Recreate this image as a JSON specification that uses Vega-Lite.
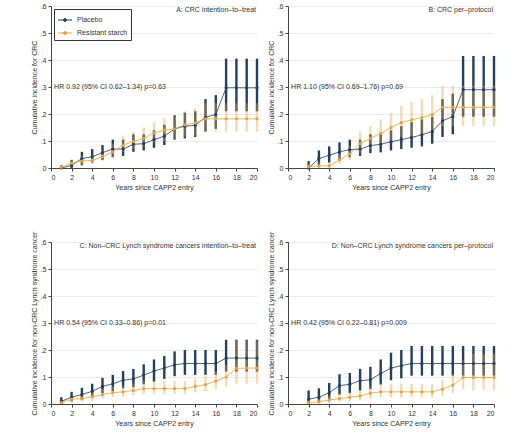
{
  "$schema": "https://vega.github.io/schema/vega-lite/v6.json",
  "padding": {"left": 30, "top": 2, "right": 5, "bottom": 5},
  "background": "white",
  "config": {
    "font": "Liberation Sans",
    "view": {"stroke": null},
    "axis": {
      "labelFontSize": 7, "titleFontSize": 7, "labelColor": "#333", "titleColor": "#333",
      "titleFontWeight": "normal", "domainColor": "#444", "tickColor": "#444",
      "tickSize": 3, "labelPadding": 2, "titlePadding": 3, "gridColor": "#ebebeb",
      "labelOverlap": false
    }
  },
  "data": {
    "values": [
      {"panel": "A", "group": "Placebo", "year": 1, "ci": 0.0, "lo": 0.0, "hi": 0.01},
      {"panel": "A", "group": "Placebo", "year": 2, "ci": 0.01, "lo": 0.0, "hi": 0.03},
      {"panel": "A", "group": "Placebo", "year": 3, "ci": 0.035, "lo": 0.01, "hi": 0.06},
      {"panel": "A", "group": "Placebo", "year": 4, "ci": 0.042, "lo": 0.02, "hi": 0.07},
      {"panel": "A", "group": "Placebo", "year": 5, "ci": 0.057, "lo": 0.03, "hi": 0.085},
      {"panel": "A", "group": "Placebo", "year": 6, "ci": 0.07, "lo": 0.04, "hi": 0.105},
      {"panel": "A", "group": "Placebo", "year": 7, "ci": 0.07, "lo": 0.045, "hi": 0.105},
      {"panel": "A", "group": "Placebo", "year": 8, "ci": 0.088, "lo": 0.06, "hi": 0.125},
      {"panel": "A", "group": "Placebo", "year": 9, "ci": 0.09, "lo": 0.065, "hi": 0.125},
      {"panel": "A", "group": "Placebo", "year": 10, "ci": 0.105, "lo": 0.075, "hi": 0.14},
      {"panel": "A", "group": "Placebo", "year": 11, "ci": 0.118, "lo": 0.085, "hi": 0.16},
      {"panel": "A", "group": "Placebo", "year": 12, "ci": 0.145, "lo": 0.105, "hi": 0.195},
      {"panel": "A", "group": "Placebo", "year": 13, "ci": 0.155, "lo": 0.11, "hi": 0.205},
      {"panel": "A", "group": "Placebo", "year": 14, "ci": 0.158, "lo": 0.115, "hi": 0.21},
      {"panel": "A", "group": "Placebo", "year": 15, "ci": 0.188, "lo": 0.135, "hi": 0.255},
      {"panel": "A", "group": "Placebo", "year": 16, "ci": 0.198, "lo": 0.145, "hi": 0.27},
      {"panel": "A", "group": "Placebo", "year": 17, "ci": 0.297, "lo": 0.21, "hi": 0.405},
      {"panel": "A", "group": "Placebo", "year": 18, "ci": 0.297, "lo": 0.21, "hi": 0.405},
      {"panel": "A", "group": "Placebo", "year": 19, "ci": 0.297, "lo": 0.21, "hi": 0.405},
      {"panel": "A", "group": "Placebo", "year": 20, "ci": 0.297, "lo": 0.21, "hi": 0.405},
      {"panel": "A", "group": "Resistant starch", "year": 1, "ci": 0.003, "lo": 0.0, "hi": 0.01},
      {"panel": "A", "group": "Resistant starch", "year": 2, "ci": 0.018, "lo": 0.005, "hi": 0.03},
      {"panel": "A", "group": "Resistant starch", "year": 3, "ci": 0.026, "lo": 0.01, "hi": 0.045},
      {"panel": "A", "group": "Resistant starch", "year": 4, "ci": 0.028, "lo": 0.015, "hi": 0.05},
      {"panel": "A", "group": "Resistant starch", "year": 5, "ci": 0.042, "lo": 0.025, "hi": 0.065},
      {"panel": "A", "group": "Resistant starch", "year": 6, "ci": 0.06, "lo": 0.04, "hi": 0.09},
      {"panel": "A", "group": "Resistant starch", "year": 7, "ci": 0.085, "lo": 0.06, "hi": 0.12},
      {"panel": "A", "group": "Resistant starch", "year": 8, "ci": 0.098, "lo": 0.07, "hi": 0.135},
      {"panel": "A", "group": "Resistant starch", "year": 9, "ci": 0.11, "lo": 0.08, "hi": 0.15},
      {"panel": "A", "group": "Resistant starch", "year": 10, "ci": 0.13, "lo": 0.095, "hi": 0.17},
      {"panel": "A", "group": "Resistant starch", "year": 11, "ci": 0.14, "lo": 0.1, "hi": 0.185},
      {"panel": "A", "group": "Resistant starch", "year": 12, "ci": 0.145, "lo": 0.105, "hi": 0.19},
      {"panel": "A", "group": "Resistant starch", "year": 13, "ci": 0.16, "lo": 0.115, "hi": 0.21},
      {"panel": "A", "group": "Resistant starch", "year": 14, "ci": 0.167, "lo": 0.12, "hi": 0.22},
      {"panel": "A", "group": "Resistant starch", "year": 15, "ci": 0.182, "lo": 0.135, "hi": 0.24},
      {"panel": "A", "group": "Resistant starch", "year": 16, "ci": 0.182, "lo": 0.135, "hi": 0.24},
      {"panel": "A", "group": "Resistant starch", "year": 17, "ci": 0.182, "lo": 0.135, "hi": 0.24},
      {"panel": "A", "group": "Resistant starch", "year": 18, "ci": 0.182, "lo": 0.135, "hi": 0.24},
      {"panel": "A", "group": "Resistant starch", "year": 19, "ci": 0.182, "lo": 0.135, "hi": 0.24},
      {"panel": "A", "group": "Resistant starch", "year": 20, "ci": 0.182, "lo": 0.135, "hi": 0.24},

      {"panel": "B", "group": "Placebo", "year": 2, "ci": 0.0, "lo": 0.0, "hi": 0.025},
      {"panel": "B", "group": "Placebo", "year": 3, "ci": 0.035, "lo": 0.01, "hi": 0.065},
      {"panel": "B", "group": "Placebo", "year": 4, "ci": 0.047, "lo": 0.02, "hi": 0.08},
      {"panel": "B", "group": "Placebo", "year": 5, "ci": 0.06, "lo": 0.03, "hi": 0.095},
      {"panel": "B", "group": "Placebo", "year": 6, "ci": 0.068, "lo": 0.04, "hi": 0.105},
      {"panel": "B", "group": "Placebo", "year": 7, "ci": 0.07, "lo": 0.045, "hi": 0.105},
      {"panel": "B", "group": "Placebo", "year": 8, "ci": 0.083, "lo": 0.055, "hi": 0.125},
      {"panel": "B", "group": "Placebo", "year": 9, "ci": 0.088, "lo": 0.058, "hi": 0.13},
      {"panel": "B", "group": "Placebo", "year": 10, "ci": 0.097, "lo": 0.065, "hi": 0.14},
      {"panel": "B", "group": "Placebo", "year": 11, "ci": 0.105, "lo": 0.07, "hi": 0.155},
      {"panel": "B", "group": "Placebo", "year": 12, "ci": 0.113, "lo": 0.075, "hi": 0.17},
      {"panel": "B", "group": "Placebo", "year": 13, "ci": 0.123, "lo": 0.08, "hi": 0.18},
      {"panel": "B", "group": "Placebo", "year": 14, "ci": 0.135, "lo": 0.09, "hi": 0.19},
      {"panel": "B", "group": "Placebo", "year": 15, "ci": 0.175, "lo": 0.115, "hi": 0.255},
      {"panel": "B", "group": "Placebo", "year": 16, "ci": 0.19, "lo": 0.125, "hi": 0.275},
      {"panel": "B", "group": "Placebo", "year": 17, "ci": 0.29, "lo": 0.19, "hi": 0.415},
      {"panel": "B", "group": "Placebo", "year": 18, "ci": 0.29, "lo": 0.19, "hi": 0.415},
      {"panel": "B", "group": "Placebo", "year": 19, "ci": 0.29, "lo": 0.19, "hi": 0.415},
      {"panel": "B", "group": "Placebo", "year": 20, "ci": 0.29, "lo": 0.19, "hi": 0.415},
      {"panel": "B", "group": "Resistant starch", "year": 2, "ci": 0.005, "lo": 0.0, "hi": 0.015},
      {"panel": "B", "group": "Resistant starch", "year": 3, "ci": 0.008, "lo": 0.0, "hi": 0.02},
      {"panel": "B", "group": "Resistant starch", "year": 4, "ci": 0.008, "lo": 0.0, "hi": 0.02},
      {"panel": "B", "group": "Resistant starch", "year": 5, "ci": 0.03, "lo": 0.015, "hi": 0.05},
      {"panel": "B", "group": "Resistant starch", "year": 6, "ci": 0.052, "lo": 0.03, "hi": 0.08},
      {"panel": "B", "group": "Resistant starch", "year": 7, "ci": 0.09, "lo": 0.055, "hi": 0.135},
      {"panel": "B", "group": "Resistant starch", "year": 8, "ci": 0.11, "lo": 0.07, "hi": 0.155},
      {"panel": "B", "group": "Resistant starch", "year": 9, "ci": 0.128, "lo": 0.085, "hi": 0.18},
      {"panel": "B", "group": "Resistant starch", "year": 10, "ci": 0.15, "lo": 0.1, "hi": 0.205},
      {"panel": "B", "group": "Resistant starch", "year": 11, "ci": 0.168, "lo": 0.115, "hi": 0.23},
      {"panel": "B", "group": "Resistant starch", "year": 12, "ci": 0.178, "lo": 0.12, "hi": 0.245},
      {"panel": "B", "group": "Resistant starch", "year": 13, "ci": 0.187, "lo": 0.125, "hi": 0.255},
      {"panel": "B", "group": "Resistant starch", "year": 14, "ci": 0.198, "lo": 0.135, "hi": 0.27},
      {"panel": "B", "group": "Resistant starch", "year": 15, "ci": 0.225, "lo": 0.155, "hi": 0.305},
      {"panel": "B", "group": "Resistant starch", "year": 16, "ci": 0.225, "lo": 0.155, "hi": 0.305},
      {"panel": "B", "group": "Resistant starch", "year": 17, "ci": 0.225, "lo": 0.155, "hi": 0.305},
      {"panel": "B", "group": "Resistant starch", "year": 18, "ci": 0.225, "lo": 0.155, "hi": 0.305},
      {"panel": "B", "group": "Resistant starch", "year": 19, "ci": 0.225, "lo": 0.155, "hi": 0.305},
      {"panel": "B", "group": "Resistant starch", "year": 20, "ci": 0.225, "lo": 0.155, "hi": 0.305},

      {"panel": "C", "group": "Placebo", "year": 1, "ci": 0.01, "lo": 0.0, "hi": 0.025},
      {"panel": "C", "group": "Placebo", "year": 2, "ci": 0.025, "lo": 0.01, "hi": 0.045},
      {"panel": "C", "group": "Placebo", "year": 3, "ci": 0.035, "lo": 0.015, "hi": 0.06},
      {"panel": "C", "group": "Placebo", "year": 4, "ci": 0.047, "lo": 0.025, "hi": 0.075},
      {"panel": "C", "group": "Placebo", "year": 5, "ci": 0.065, "lo": 0.04, "hi": 0.097},
      {"panel": "C", "group": "Placebo", "year": 6, "ci": 0.075, "lo": 0.048, "hi": 0.108},
      {"panel": "C", "group": "Placebo", "year": 7, "ci": 0.088, "lo": 0.058, "hi": 0.122},
      {"panel": "C", "group": "Placebo", "year": 8, "ci": 0.093, "lo": 0.062, "hi": 0.13},
      {"panel": "C", "group": "Placebo", "year": 9, "ci": 0.107, "lo": 0.073, "hi": 0.147},
      {"panel": "C", "group": "Placebo", "year": 10, "ci": 0.122, "lo": 0.083, "hi": 0.165},
      {"panel": "C", "group": "Placebo", "year": 11, "ci": 0.133, "lo": 0.093, "hi": 0.178},
      {"panel": "C", "group": "Placebo", "year": 12, "ci": 0.145, "lo": 0.103, "hi": 0.195},
      {"panel": "C", "group": "Placebo", "year": 13, "ci": 0.15, "lo": 0.108, "hi": 0.2},
      {"panel": "C", "group": "Placebo", "year": 14, "ci": 0.15, "lo": 0.108, "hi": 0.2},
      {"panel": "C", "group": "Placebo", "year": 15, "ci": 0.15, "lo": 0.108, "hi": 0.2},
      {"panel": "C", "group": "Placebo", "year": 16, "ci": 0.15, "lo": 0.108, "hi": 0.2},
      {"panel": "C", "group": "Placebo", "year": 17, "ci": 0.17, "lo": 0.12, "hi": 0.238},
      {"panel": "C", "group": "Placebo", "year": 18, "ci": 0.17, "lo": 0.12, "hi": 0.238},
      {"panel": "C", "group": "Placebo", "year": 19, "ci": 0.17, "lo": 0.12, "hi": 0.238},
      {"panel": "C", "group": "Placebo", "year": 20, "ci": 0.17, "lo": 0.12, "hi": 0.238},
      {"panel": "C", "group": "Resistant starch", "year": 1, "ci": 0.005, "lo": 0.0, "hi": 0.015},
      {"panel": "C", "group": "Resistant starch", "year": 2, "ci": 0.018, "lo": 0.005, "hi": 0.03},
      {"panel": "C", "group": "Resistant starch", "year": 3, "ci": 0.02, "lo": 0.008, "hi": 0.035},
      {"panel": "C", "group": "Resistant starch", "year": 4, "ci": 0.027, "lo": 0.012, "hi": 0.045},
      {"panel": "C", "group": "Resistant starch", "year": 5, "ci": 0.035, "lo": 0.02, "hi": 0.055},
      {"panel": "C", "group": "Resistant starch", "year": 6, "ci": 0.042, "lo": 0.025, "hi": 0.065},
      {"panel": "C", "group": "Resistant starch", "year": 7, "ci": 0.045, "lo": 0.028, "hi": 0.068},
      {"panel": "C", "group": "Resistant starch", "year": 8, "ci": 0.05, "lo": 0.032, "hi": 0.075},
      {"panel": "C", "group": "Resistant starch", "year": 9, "ci": 0.057, "lo": 0.037, "hi": 0.085},
      {"panel": "C", "group": "Resistant starch", "year": 10, "ci": 0.057, "lo": 0.037, "hi": 0.085},
      {"panel": "C", "group": "Resistant starch", "year": 11, "ci": 0.057, "lo": 0.037, "hi": 0.085},
      {"panel": "C", "group": "Resistant starch", "year": 12, "ci": 0.057, "lo": 0.037, "hi": 0.085},
      {"panel": "C", "group": "Resistant starch", "year": 13, "ci": 0.057, "lo": 0.037, "hi": 0.085},
      {"panel": "C", "group": "Resistant starch", "year": 14, "ci": 0.065, "lo": 0.043, "hi": 0.095},
      {"panel": "C", "group": "Resistant starch", "year": 15, "ci": 0.072, "lo": 0.048, "hi": 0.103},
      {"panel": "C", "group": "Resistant starch", "year": 16, "ci": 0.085, "lo": 0.055, "hi": 0.12},
      {"panel": "C", "group": "Resistant starch", "year": 17, "ci": 0.1, "lo": 0.065, "hi": 0.145},
      {"panel": "C", "group": "Resistant starch", "year": 18, "ci": 0.132, "lo": 0.075, "hi": 0.24},
      {"panel": "C", "group": "Resistant starch", "year": 19, "ci": 0.133, "lo": 0.075, "hi": 0.235},
      {"panel": "C", "group": "Resistant starch", "year": 20, "ci": 0.133, "lo": 0.075, "hi": 0.235},

      {"panel": "D", "group": "Placebo", "year": 2, "ci": 0.018, "lo": 0.0, "hi": 0.05},
      {"panel": "D", "group": "Placebo", "year": 3, "ci": 0.025, "lo": 0.005, "hi": 0.058},
      {"panel": "D", "group": "Placebo", "year": 4, "ci": 0.042, "lo": 0.015, "hi": 0.078},
      {"panel": "D", "group": "Placebo", "year": 5, "ci": 0.068, "lo": 0.035, "hi": 0.11},
      {"panel": "D", "group": "Placebo", "year": 6, "ci": 0.073, "lo": 0.04, "hi": 0.115},
      {"panel": "D", "group": "Placebo", "year": 7, "ci": 0.086, "lo": 0.05, "hi": 0.13},
      {"panel": "D", "group": "Placebo", "year": 8, "ci": 0.09, "lo": 0.055, "hi": 0.138},
      {"panel": "D", "group": "Placebo", "year": 9, "ci": 0.113, "lo": 0.072, "hi": 0.165},
      {"panel": "D", "group": "Placebo", "year": 10, "ci": 0.133, "lo": 0.088, "hi": 0.19},
      {"panel": "D", "group": "Placebo", "year": 11, "ci": 0.142, "lo": 0.095, "hi": 0.2},
      {"panel": "D", "group": "Placebo", "year": 12, "ci": 0.15, "lo": 0.105, "hi": 0.215},
      {"panel": "D", "group": "Placebo", "year": 13, "ci": 0.15, "lo": 0.105, "hi": 0.215},
      {"panel": "D", "group": "Placebo", "year": 14, "ci": 0.15, "lo": 0.105, "hi": 0.215},
      {"panel": "D", "group": "Placebo", "year": 15, "ci": 0.15, "lo": 0.105, "hi": 0.215},
      {"panel": "D", "group": "Placebo", "year": 16, "ci": 0.15, "lo": 0.105, "hi": 0.215},
      {"panel": "D", "group": "Placebo", "year": 17, "ci": 0.15, "lo": 0.105, "hi": 0.215},
      {"panel": "D", "group": "Placebo", "year": 18, "ci": 0.15, "lo": 0.105, "hi": 0.215},
      {"panel": "D", "group": "Placebo", "year": 19, "ci": 0.15, "lo": 0.105, "hi": 0.215},
      {"panel": "D", "group": "Placebo", "year": 20, "ci": 0.15, "lo": 0.105, "hi": 0.215},
      {"panel": "D", "group": "Resistant starch", "year": 2, "ci": 0.005, "lo": 0.0, "hi": 0.02},
      {"panel": "D", "group": "Resistant starch", "year": 3, "ci": 0.008, "lo": 0.0, "hi": 0.02},
      {"panel": "D", "group": "Resistant starch", "year": 4, "ci": 0.015, "lo": 0.003, "hi": 0.03},
      {"panel": "D", "group": "Resistant starch", "year": 5, "ci": 0.02, "lo": 0.007, "hi": 0.04},
      {"panel": "D", "group": "Resistant starch", "year": 6, "ci": 0.025, "lo": 0.01, "hi": 0.045},
      {"panel": "D", "group": "Resistant starch", "year": 7, "ci": 0.03, "lo": 0.013, "hi": 0.05},
      {"panel": "D", "group": "Resistant starch", "year": 8, "ci": 0.04, "lo": 0.02, "hi": 0.065},
      {"panel": "D", "group": "Resistant starch", "year": 9, "ci": 0.045, "lo": 0.025, "hi": 0.075},
      {"panel": "D", "group": "Resistant starch", "year": 10, "ci": 0.045, "lo": 0.025, "hi": 0.075},
      {"panel": "D", "group": "Resistant starch", "year": 11, "ci": 0.045, "lo": 0.025, "hi": 0.075},
      {"panel": "D", "group": "Resistant starch", "year": 12, "ci": 0.045, "lo": 0.025, "hi": 0.075},
      {"panel": "D", "group": "Resistant starch", "year": 13, "ci": 0.045, "lo": 0.025, "hi": 0.075},
      {"panel": "D", "group": "Resistant starch", "year": 14, "ci": 0.045, "lo": 0.025, "hi": 0.075},
      {"panel": "D", "group": "Resistant starch", "year": 15, "ci": 0.055, "lo": 0.03, "hi": 0.09},
      {"panel": "D", "group": "Resistant starch", "year": 16, "ci": 0.07, "lo": 0.04, "hi": 0.11},
      {"panel": "D", "group": "Resistant starch", "year": 17, "ci": 0.098, "lo": 0.055, "hi": 0.16},
      {"panel": "D", "group": "Resistant starch", "year": 18, "ci": 0.098, "lo": 0.05, "hi": 0.185},
      {"panel": "D", "group": "Resistant starch", "year": 19, "ci": 0.098, "lo": 0.05, "hi": 0.185},
      {"panel": "D", "group": "Resistant starch", "year": 20, "ci": 0.098, "lo": 0.05, "hi": 0.185}
    ]
  },
  "columns": 2,
  "spacing": {"column": 8, "row": 41},
  "resolve": {"legend": {"color": "independent"}},
  "concat": [
    {
      "width": 206, "height": 162,
      "transform": [{"filter": "datum.panel == 'A'"}],
      "encoding": {
        "x": {"field": "year", "type": "quantitative", "title": "Years since CAPP2 entry",
              "scale": {"domain": [0, 20], "nice": false},
              "axis": {"values": [0, 2, 4, 6, 8, 10, 12, 14, 16, 18, 20], "grid": false}},
        "y": {"field": "ci", "type": "quantitative", "title": "Cumulative incidence for CRC",
              "scale": {"domain": [0, 0.6], "nice": false},
              "axis": {"values": [0, 0.1, 0.2, 0.3, 0.4, 0.5, 0.6], "grid": true,
                       "labelExpr": "datum.value == 0 ? '0' : replace(format(datum.value, '.1f'), '0.', '.')"}},
        "color": {"field": "group", "type": "nominal",
                  "scale": {"domain": ["Placebo", "Resistant starch"], "range": ["#22405f", "#e9a23b"]},
                  "legend": {"title": null, "orient": "top-left", "offset": 3, "direction": "vertical",
                             "fillColor": "white", "strokeColor": "#333", "padding": 3,
                             "labelFontSize": 7, "labelColor": "#333", "rowPadding": 1, "labelLimit": 200,
                             "symbolType": "M -1 0 L 1 0 M -0.22 0 A 0.22 0.22 0 1 1 0.22 0 A 0.22 0.22 0 1 1 -0.22 0",
                             "symbolSize": 200, "symbolStrokeWidth": 1}}
      },
      "layer": [
        {"mark": {"type": "rule", "strokeWidth": 2.4},
         "encoding": {"y": {"field": "lo", "type": "quantitative", "title": "Cumulative incidence for CRC",
                            "scale": {"domain": [0, 0.6], "nice": false},
                            "axis": {"values": [0, 0.1, 0.2, 0.3, 0.4, 0.5, 0.6], "grid": true,
                                     "labelExpr": "datum.value == 0 ? '0' : replace(format(datum.value, '.1f'), '0.', '.')"}},
                      "y2": {"field": "hi"},
                      "opacity": {"field": "group", "type": "nominal", "scale": {"domain": ["Placebo", "Resistant starch"], "range": [1, 0.4]}, "legend": null}}},
        {"mark": {"type": "line", "strokeWidth": 0.8}, "encoding": {}},
        {"mark": {"type": "point", "filled": true, "size": 10, "opacity": 1}, "encoding": {}},
        {"data": {"values": [{"year": 19.9, "ci": 0.585, "label": "A: CRC intention–to–treat"}, {"year": 0.3, "ci": 0.3, "label": "HR 0.92 (95% CI 0.62–1.34) p=0.63"}]},
         "mark": {"type": "text", "fontSize": 7, "align": {"expr": "datum.year > 10 ? 'right' : 'left'"}},
         "encoding": {"text": {"field": "label"}, "color": {"value": "#333"}}}
      ]
    },
    {
      "width": 206, "height": 162,
      "transform": [{"filter": "datum.panel == 'B'"}],
      "encoding": {
        "x": {"field": "year", "type": "quantitative", "title": "Years since CAPP2 entry",
              "scale": {"domain": [0, 20], "nice": false},
              "axis": {"values": [0, 2, 4, 6, 8, 10, 12, 14, 16, 18, 20], "grid": false}},
        "y": {"field": "ci", "type": "quantitative", "title": "Cumulative incidence for CRC",
              "scale": {"domain": [0, 0.6], "nice": false},
              "axis": {"values": [0, 0.1, 0.2, 0.3, 0.4, 0.5, 0.6], "grid": true,
                       "labelExpr": "datum.value == 0 ? '0' : replace(format(datum.value, '.1f'), '0.', '.')"}},
        "color": {"field": "group", "type": "nominal",
                  "scale": {"domain": ["Placebo", "Resistant starch"], "range": ["#22405f", "#e9a23b"]}, "legend": null}
      },
      "layer": [
        {"mark": {"type": "rule", "strokeWidth": 2.4},
         "encoding": {"y": {"field": "lo", "type": "quantitative", "title": "Cumulative incidence for CRC",
                            "scale": {"domain": [0, 0.6], "nice": false},
                            "axis": {"values": [0, 0.1, 0.2, 0.3, 0.4, 0.5, 0.6], "grid": true,
                                     "labelExpr": "datum.value == 0 ? '0' : replace(format(datum.value, '.1f'), '0.', '.')"}},
                      "y2": {"field": "hi"},
                      "opacity": {"field": "group", "type": "nominal", "scale": {"domain": ["Placebo", "Resistant starch"], "range": [1, 0.4]}, "legend": null}}},
        {"mark": {"type": "line", "strokeWidth": 0.8}, "encoding": {}},
        {"mark": {"type": "point", "filled": true, "size": 10, "opacity": 1}, "encoding": {}},
        {"data": {"values": [{"year": 19.9, "ci": 0.585, "label": "B: CRC per–protocol"}, {"year": 0.3, "ci": 0.3, "label": "HR 1.10 (95% CI 0.69–1.76) p=0.69"}]},
         "mark": {"type": "text", "fontSize": 7, "align": {"expr": "datum.year > 10 ? 'right' : 'left'"}},
         "encoding": {"text": {"field": "label"}, "color": {"value": "#333"}}}
      ]
    },
    {
      "width": 206, "height": 162,
      "transform": [{"filter": "datum.panel == 'C'"}],
      "encoding": {
        "x": {"field": "year", "type": "quantitative", "title": "Years since CAPP2 entry",
              "scale": {"domain": [0, 20], "nice": false},
              "axis": {"values": [0, 2, 4, 6, 8, 10, 12, 14, 16, 18, 20], "grid": false}},
        "y": {"field": "ci", "type": "quantitative", "title": "Cumulative incidence for non-CRC Lynch syndrome cancer",
              "scale": {"domain": [0, 0.6], "nice": false},
              "axis": {"values": [0, 0.1, 0.2, 0.3, 0.4, 0.5, 0.6], "grid": true,
                       "labelExpr": "datum.value == 0 ? '0' : replace(format(datum.value, '.1f'), '0.', '.')"}},
        "color": {"field": "group", "type": "nominal",
                  "scale": {"domain": ["Placebo", "Resistant starch"], "range": ["#22405f", "#e9a23b"]}, "legend": null}
      },
      "layer": [
        {"mark": {"type": "rule", "strokeWidth": 2.4},
         "encoding": {"y": {"field": "lo", "type": "quantitative", "title": "Cumulative incidence for non-CRC Lynch syndrome cancer",
                            "scale": {"domain": [0, 0.6], "nice": false},
                            "axis": {"values": [0, 0.1, 0.2, 0.3, 0.4, 0.5, 0.6], "grid": true,
                                     "labelExpr": "datum.value == 0 ? '0' : replace(format(datum.value, '.1f'), '0.', '.')"}},
                      "y2": {"field": "hi"},
                      "opacity": {"field": "group", "type": "nominal", "scale": {"domain": ["Placebo", "Resistant starch"], "range": [1, 0.4]}, "legend": null}}},
        {"mark": {"type": "line", "strokeWidth": 0.8}, "encoding": {}},
        {"mark": {"type": "point", "filled": true, "size": 10, "opacity": 1}, "encoding": {}},
        {"data": {"values": [{"year": 19.9, "ci": 0.585, "label": "C: Non–CRC Lynch syndrome cancers intention–to–treat"}, {"year": 0.3, "ci": 0.3, "label": "HR 0.54 (95% CI 0.33–0.86) p=0.01"}]},
         "mark": {"type": "text", "fontSize": 7, "align": {"expr": "datum.year > 10 ? 'right' : 'left'"}},
         "encoding": {"text": {"field": "label"}, "color": {"value": "#333"}}}
      ]
    },
    {
      "width": 206, "height": 162,
      "transform": [{"filter": "datum.panel == 'D'"}],
      "encoding": {
        "x": {"field": "year", "type": "quantitative", "title": "Years since CAPP2 entry",
              "scale": {"domain": [0, 20], "nice": false},
              "axis": {"values": [0, 2, 4, 6, 8, 10, 12, 14, 16, 18, 20], "grid": false}},
        "y": {"field": "ci", "type": "quantitative", "title": "Cumulative incidence for non-CRC Lynch syndrome cancer",
              "scale": {"domain": [0, 0.6], "nice": false},
              "axis": {"values": [0, 0.1, 0.2, 0.3, 0.4, 0.5, 0.6], "grid": true,
                       "labelExpr": "datum.value == 0 ? '0' : replace(format(datum.value, '.1f'), '0.', '.')"}},
        "color": {"field": "group", "type": "nominal",
                  "scale": {"domain": ["Placebo", "Resistant starch"], "range": ["#22405f", "#e9a23b"]}, "legend": null}
      },
      "layer": [
        {"mark": {"type": "rule", "strokeWidth": 2.4},
         "encoding": {"y": {"field": "lo", "type": "quantitative", "title": "Cumulative incidence for non-CRC Lynch syndrome cancer",
                            "scale": {"domain": [0, 0.6], "nice": false},
                            "axis": {"values": [0, 0.1, 0.2, 0.3, 0.4, 0.5, 0.6], "grid": true,
                                     "labelExpr": "datum.value == 0 ? '0' : replace(format(datum.value, '.1f'), '0.', '.')"}},
                      "y2": {"field": "hi"},
                      "opacity": {"field": "group", "type": "nominal", "scale": {"domain": ["Placebo", "Resistant starch"], "range": [1, 0.4]}, "legend": null}}},
        {"mark": {"type": "line", "strokeWidth": 0.8}, "encoding": {}},
        {"mark": {"type": "point", "filled": true, "size": 10, "opacity": 1}, "encoding": {}},
        {"data": {"values": [{"year": 19.9, "ci": 0.585, "label": "D: Non–CRC Lynch syndrome cancers per–protocol"}, {"year": 0.3, "ci": 0.3, "label": "HR 0.42 (95% CI 0.22–0.81) p=0.009"}]},
         "mark": {"type": "text", "fontSize": 7, "align": {"expr": "datum.year > 10 ? 'right' : 'left'"}},
         "encoding": {"text": {"field": "label"}, "color": {"value": "#333"}}}
      ]
    }
  ]
}
